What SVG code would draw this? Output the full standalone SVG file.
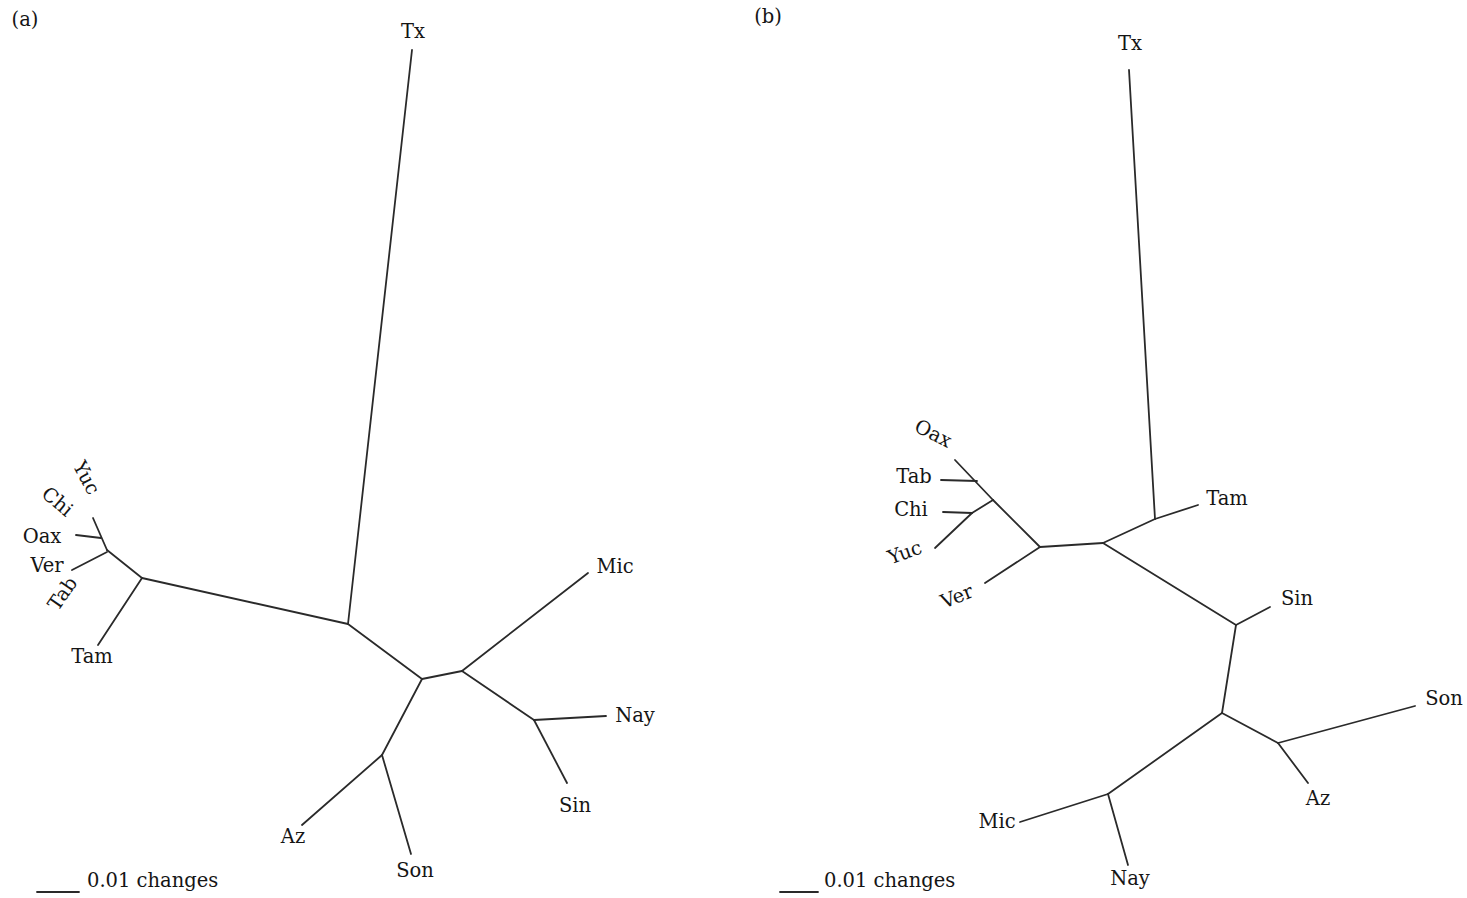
<svg xmlns="http://www.w3.org/2000/svg" width="1467" height="898" viewBox="0 0 1467 898">
<style>
.e{stroke:#2a2a2a;stroke-width:1.8;fill:none;stroke-linecap:round}
.t{font-family:"DejaVu Serif","Liberation Serif",serif;font-size:19.5px;fill:#151515;text-anchor:middle}
.s{text-anchor:start}
</style>
<rect width="1467" height="898" fill="#ffffff"/>
<g id="connectors-a">
<line class="e" x1="412" y1="50" x2="348" y2="624"/>
<line class="e" x1="348" y1="624" x2="142" y2="578"/>
<line class="e" x1="142" y1="578" x2="98" y2="645"/>
<line class="e" x1="142" y1="578" x2="107" y2="550"/>
<line class="e" x1="107" y1="550" x2="93" y2="518"/>
<line class="e" x1="76" y1="535" x2="101" y2="538"/>
<line class="e" x1="72" y1="570" x2="107" y2="552"/>
<line class="e" x1="348" y1="624" x2="422" y2="679"/>
<line class="e" x1="422" y1="679" x2="462" y2="671"/>
<line class="e" x1="462" y1="671" x2="588" y2="573"/>
<line class="e" x1="462" y1="671" x2="534" y2="720"/>
<line class="e" x1="534" y1="720" x2="606" y2="716"/>
<line class="e" x1="534" y1="720" x2="567" y2="783"/>
<line class="e" x1="422" y1="679" x2="382" y2="755"/>
<line class="e" x1="382" y1="755" x2="411" y2="854"/>
<line class="e" x1="382" y1="755" x2="302" y2="825"/>
<line class="e" x1="37" y1="892" x2="79" y2="892"/>
</g>
<g id="connectors-b">
<line class="e" x1="1129" y1="70" x2="1155" y2="519"/>
<line class="e" x1="1155" y1="519" x2="1198" y2="505"/>
<line class="e" x1="1155" y1="519" x2="1103" y2="543"/>
<line class="e" x1="1103" y1="543" x2="1040" y2="547"/>
<line class="e" x1="1040" y1="547" x2="993" y2="500"/>
<line class="e" x1="993" y1="500" x2="955" y2="460"/>
<line class="e" x1="941" y1="480" x2="977" y2="481"/>
<line class="e" x1="993" y1="500" x2="972" y2="513"/>
<line class="e" x1="943" y1="512" x2="972" y2="513"/>
<line class="e" x1="972" y1="513" x2="935" y2="548"/>
<line class="e" x1="1040" y1="547" x2="985" y2="583"/>
<line class="e" x1="1103" y1="543" x2="1236" y2="625"/>
<line class="e" x1="1236" y1="625" x2="1270" y2="607"/>
<line class="e" x1="1236" y1="625" x2="1222" y2="713"/>
<line class="e" x1="1222" y1="713" x2="1278" y2="743"/>
<line class="e" x1="1278" y1="743" x2="1415" y2="706"/>
<line class="e" x1="1278" y1="743" x2="1308" y2="783"/>
<line class="e" x1="1222" y1="713" x2="1108" y2="794"/>
<line class="e" x1="1108" y1="794" x2="1020" y2="822"/>
<line class="e" x1="1108" y1="794" x2="1128" y2="865"/>
<line class="e" x1="780" y1="892" x2="818" y2="892"/>
</g>
<g id="panel-a-label"><text class="t" x="25" y="26">(a)</text></g>
<g id="a-Tx"><text class="t" x="413" y="38">Tx</text></g>
<g id="a-Mic"><text class="t" x="615" y="573">Mic</text></g>
<g id="a-Nay"><text class="t" x="635" y="722">Nay</text></g>
<g id="a-Sin"><text class="t" x="575" y="812">Sin</text></g>
<g id="a-Son"><text class="t" x="415" y="877">Son</text></g>
<g id="a-Az"><text class="t" x="293" y="843">Az</text></g>
<g id="a-Tam"><text class="t" x="92" y="663">Tam</text></g>
<g id="a-Oax"><text class="t" x="42" y="543">Oax</text></g>
<g id="a-Ver"><text class="t" x="47" y="572">Ver</text></g>
<g id="a-Yuc"><text class="t" transform="translate(86,478) rotate(62)" y="6">Yuc</text></g>
<g id="a-Chi"><text class="t" transform="translate(57,502) rotate(40)" y="6">Chi</text></g>
<g id="a-Tab"><text class="t" transform="translate(63,594) rotate(-55)" y="6">Tab</text></g>
<g id="a-scale"><text class="t s" x="87" y="887">0.01 changes</text></g>
<g id="panel-b-label"><text class="t" x="768" y="23">(b)</text></g>
<g id="b-Tx"><text class="t" x="1130" y="50">Tx</text></g>
<g id="b-Tam"><text class="t" x="1227" y="505">Tam</text></g>
<g id="b-Oax"><text class="t" transform="translate(933,434) rotate(27)" y="6">Oax</text></g>
<g id="b-Tab"><text class="t" x="914" y="483">Tab</text></g>
<g id="b-Chi"><text class="t" x="911" y="516">Chi</text></g>
<g id="b-Yuc"><text class="t" transform="translate(905,553) rotate(-20)" y="6">Yuc</text></g>
<g id="b-Ver"><text class="t" transform="translate(957,597) rotate(-22)" y="6">Ver</text></g>
<g id="b-Sin"><text class="t" x="1297" y="605">Sin</text></g>
<g id="b-Son"><text class="t" x="1444" y="705">Son</text></g>
<g id="b-Az"><text class="t" x="1318" y="805">Az</text></g>
<g id="b-Mic"><text class="t" x="997" y="828">Mic</text></g>
<g id="b-Nay"><text class="t" x="1130" y="885">Nay</text></g>
<g id="b-scale"><text class="t s" x="824" y="887">0.01 changes</text></g>
</svg>
